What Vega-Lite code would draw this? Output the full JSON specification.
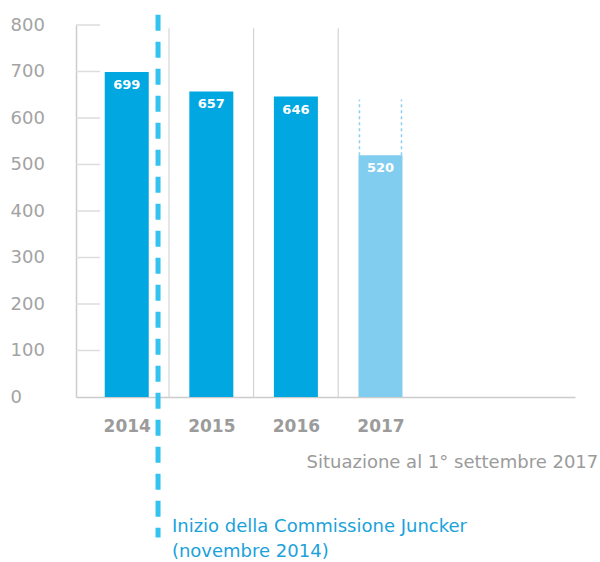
{
  "$schema": "https://vega.github.io/schema/vega-lite/v6.json",
  "width": 499,
  "height": 372,
  "autosize": {"type": "none"},
  "padding": {"left": 76, "top": 25, "right": 25, "bottom": 165},
  "background": "white",
  "config": {"view": {"stroke": null}, "font": "DejaVu Sans"},
  "datasets": {
    "bars": [
      {"year": 2014, "value": 699, "status": "completo"},
      {"year": 2015, "value": 657, "status": "completo"},
      {"year": 2016, "value": 646, "status": "completo"},
      {"year": 2017, "value": 520, "status": "parziale"}
    ],
    "seps": [{"sep": 2014.5}, {"sep": 2015.5}, {"sep": 2016.5}],
    "ticks": [{"v": 100}, {"v": 200}, {"v": 300}, {"v": 400}, {"v": 500}, {"v": 600}, {"v": 700}, {"v": 800}],
    "one": [{"n": 1}]
  },
  "layer": [
    {
      "data": {"name": "bars"},
      "mark": {"type": "bar", "size": 44},
      "encoding": {
        "x": {
          "field": "year", "type": "quantitative",
          "scale": {"domain": [2013.4, 2019.3], "nice": false, "zero": false, "padding": 0},
          "axis": {
            "values": [2014, 2015, 2016, 2017], "format": "d", "title": null,
            "ticks": false, "grid": false, "domainColor": "#cccccc", "domainWidth": 1.5,
            "labelFontSize": 17, "labelFontWeight": "bold", "labelColor": "#9b9b9b", "labelPadding": 21
          }
        },
        "y": {
          "field": "value", "type": "quantitative",
          "scale": {"domain": [0, 800], "nice": false, "zero": false, "padding": 0},
          "axis": {
            "values": [0, 100, 200, 300, 400, 500, 600, 700, 800], "title": null,
            "ticks": false, "grid": false, "domainColor": "#cccccc", "domainWidth": 1.5,
            "labelFontSize": 18, "labelColor": "#a3a3a3", "labelAlign": "left", "labelPadding": 66
          }
        },
        "color": {
          "field": "status", "type": "nominal",
          "scale": {"domain": ["completo", "parziale"], "range": ["#00a7e1", "#80cdef"]},
          "legend": null
        }
      }
    },
    {
      "data": {"name": "seps"},
      "mark": {"type": "rule", "color": "#cccccc", "strokeWidth": 1},
      "encoding": {
        "x": {"field": "sep", "type": "quantitative"},
        "y": {"datum": 0, "type": "quantitative"},
        "y2": {"datum": 793}
      }
    },
    {
      "data": {"name": "ticks"},
      "mark": {"type": "rule", "color": "#dddddd", "strokeWidth": 1.5},
      "encoding": {
        "x": {"datum": 2013.4, "type": "quantitative"},
        "x2": {"datum": 2013.685},
        "y": {"field": "v", "type": "quantitative"}
      }
    },
    {
      "data": {"name": "bars"},
      "mark": {"type": "text", "color": "white", "fontWeight": "bold", "fontSize": 13, "baseline": "top", "dy": 7},
      "encoding": {
        "x": {"field": "year", "type": "quantitative"},
        "y": {"field": "value", "type": "quantitative"},
        "text": {"field": "value", "type": "quantitative"}
      }
    },
    {
      "data": {"name": "bars"},
      "transform": [{"filter": "datum.status == 'parziale'"}],
      "mark": {"type": "rule", "color": "#8ccff0", "strokeDash": [3, 3], "strokeWidth": 1.5, "xOffset": -21},
      "encoding": {
        "x": {"field": "year", "type": "quantitative"},
        "y": {"field": "value", "type": "quantitative"},
        "y2": {"datum": 640}
      }
    },
    {
      "data": {"name": "bars"},
      "transform": [{"filter": "datum.status == 'parziale'"}],
      "mark": {"type": "rule", "color": "#8ccff0", "strokeDash": [3, 3], "strokeWidth": 1.5, "xOffset": 21},
      "encoding": {
        "x": {"field": "year", "type": "quantitative"},
        "y": {"field": "value", "type": "quantitative"},
        "y2": {"datum": 640}
      }
    },
    {
      "data": {"name": "one"},
      "mark": {"type": "rule", "color": "#33c3ee", "strokeWidth": 5, "strokeDash": [16, 11], "clip": false},
      "encoding": {
        "x": {"datum": 2014.37, "type": "quantitative"},
        "y": {"datum": 822, "type": "quantitative"},
        "y2": {"datum": -302}
      }
    },
    {
      "data": {"name": "one"},
      "mark": {"type": "text", "align": "right", "baseline": "middle", "fontSize": 18, "color": "#9b9b9b", "clip": false},
      "encoding": {
        "x": {"datum": 2019.575, "type": "quantitative"},
        "y": {"datum": -142, "type": "quantitative"},
        "text": {"value": "Situazione al 1° settembre 2017"}
      }
    },
    {
      "data": {"name": "one"},
      "mark": {"type": "text", "align": "left", "baseline": "middle", "fontSize": 18, "color": "#1ba2db", "lineHeight": 25, "clip": false},
      "encoding": {
        "x": {"datum": 2014.534, "type": "quantitative"},
        "y": {"datum": -279, "type": "quantitative"},
        "text": {"value": ["Inizio della Commissione Juncker", "(novembre 2014)"]}
      }
    }
  ]
}
